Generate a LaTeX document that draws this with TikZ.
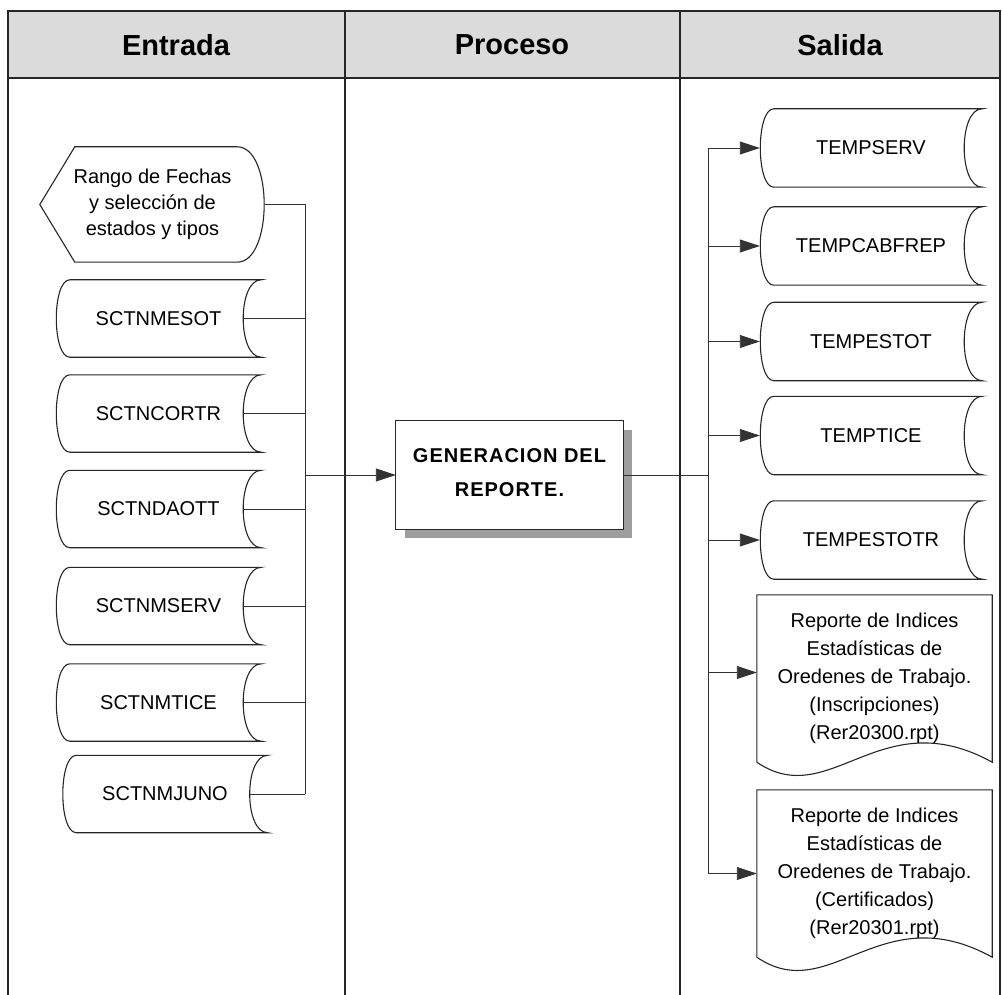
\documentclass[tikz,border=0pt]{standalone}
\usepackage{fontspec}
\setmainfont{Liberation Sans}
\usetikzlibrary{arrows.meta}
\begin{document}
\begin{tikzpicture}[x=1pt,y=-1pt,
  lbl/.style={font=\fontsize{20}{26}\selectfont, inner sep=0pt, align=center},
  sdl/.style={lbl, minimum width=205pt, minimum height=77pt},
  sdr/.style={lbl, minimum width=222pt, minimum height=78pt},
  docs/.style={font=\fontsize{20}{28}\selectfont, inner sep=0pt, align=center, minimum width=235pt, minimum height=167pt},
  outl/.style={line width=1.1pt, draw=black!85},
  conn/.style={line width=0.9pt, draw=black!80},
  arr/.style={conn, -{Triangle[length=20pt,width=13pt]}},
  head/.style={font=\fontsize{29}{30}\selectfont\bfseries, inner sep=0pt},
  proct/.style={font=\fontsize{20}{34}\selectfont\bfseries\addfontfeatures{LetterSpace=5}, align=center, inner sep=0pt}
]
\useasboundingbox (0,0) rectangle (1002,995);
% header and lanes
\fill[black!14] (8,11) rectangle (1000,78);
\draw[outl] (8,11) rectangle (1000,78);
\draw[outl] (8,78) -- (8,995) (345,11) -- (345,995) (680,11) -- (680,995) (1000,78) -- (1000,995);
\node[head] (h1) at (176,45) {Entrada};
\node[head] (h2) at (512,45) {Proceso};
\node[head] (h3) at (840,45) {Salida};

% input display
\node[lbl, minimum width=225pt, minimum height=115pt] (rango) at (152.5,204.5) {Rango de Fechas\\y selección de\\estados y tipos};
\draw[outl] (rango.west) -- ([xshift=35pt]rango.north west) -- ([xshift=-28pt]rango.north east)
  .. controls ([xshift=8pt]rango.north east) and ([xshift=8pt]rango.south east) .. ([xshift=-28pt]rango.south east)
  -- ([xshift=35pt]rango.south west) -- cycle;

% input stored data
\node[sdl] (m1) at (158.5,318.5) {SCTNMESOT};
\node[sdl] (m2) at (158.5,413.5) {SCTNCORTR};
\node[sdl] (m3) at (158.5,509) {SCTNDAOTT};
\node[sdl] (m4) at (158.5,606) {SCTNMSERV};
\node[sdl] (m5) at (158.5,702.5) {SCTNMTICE};
\node[sdl] (m6) at (165,794) {SCTNMJUNO};

% output stored data
\node[sdr] (o1) at (871,148) {TEMPSERV};
\node[sdr] (o2) at (871,246) {TEMPCABFREP};
\node[sdr] (o3) at (871,341.5) {TEMPESTOT};
\node[sdr] (o4) at (871,435.5) {TEMPTICE};
\node[sdr] (o5) at (871,540) {TEMPESTOTR};

\foreach \n in {m1,m2,m3,m4,m5,m6,o1,o2,o3,o4,o5} {
  \draw[outl] ([xshift=14pt]\n.north west) -- (\n.north east)
    .. controls ([xshift=-24pt]\n.north east) and ([xshift=-24pt]\n.south east) .. (\n.south east)
    -- ([xshift=14pt]\n.south west)
    .. controls ([xshift=-4pt]\n.south west) and ([xshift=-4pt]\n.north west) .. ([xshift=14pt]\n.north west) -- cycle;
}

% documents
\node[docs] (d1) at (874.5,678.5) {Reporte de Indices\\Estadísticas de\\Oredenes de Trabajo.\\(Inscripciones)\\(Rer20300.rpt)};
\node[docs] (d2) at (874.5,873.5) {Reporte de Indices\\Estadísticas de\\Oredenes de Trabajo.\\(Certificados)\\(Rer20301.rpt)};
\foreach \n in {d1,d2} {
  \draw[outl] (\n.south west) -- (\n.north west) -- (\n.north east) -- (\n.south east)
    .. controls ([xshift=-112pt,yshift=62pt]\n.south east) and ([xshift=-162pt,yshift=-50pt]\n.south east) .. (\n.south west);
}

% process
\node[proct, minimum width=227pt, minimum height=108pt] (proc) at (509.5,475) {};
\fill[black!38] ([xshift=9pt,yshift=-9pt]proc.south west) rectangle ([xshift=9pt,yshift=-9pt]proc.north east);
\draw[outl, fill=white] (proc.south west) rectangle (proc.north east);
\node[proct] (proctext) at ([yshift=2pt]proc.center) {GENERACION DEL\\REPORTE.};

% input bus
\coordinate (ibt) at (305,204.5);
\coordinate (ibb) at (305,794);
\draw[conn] (rango.east) -- (ibt) -- (ibb);
\foreach \n in {m1,m2,m3,m4,m5,m6} {
  \draw[conn] ([xshift=-18pt]\n.east) -- (\n.east -| ibb);
}
\draw[arr] (proc.west -| ibb) -- (proc.west);

% output bus
\coordinate (obt) at (708,148);
\coordinate (obb) at (708,873.5);
\draw[conn] (proc.east) -- (proc.east -| obt);
\draw[conn] (obt) -- (obb);
\foreach \n in {o1,o2,o3,o4,o5} {
  \draw[arr] (\n.west -| obt) -- (\n.west);
}
\draw[arr] ([yshift=6pt]d1.west -| obt) -- ([yshift=6pt]d1.west);
\draw[arr] (obb) -- (d2.west);
\end{tikzpicture}
\end{document}
